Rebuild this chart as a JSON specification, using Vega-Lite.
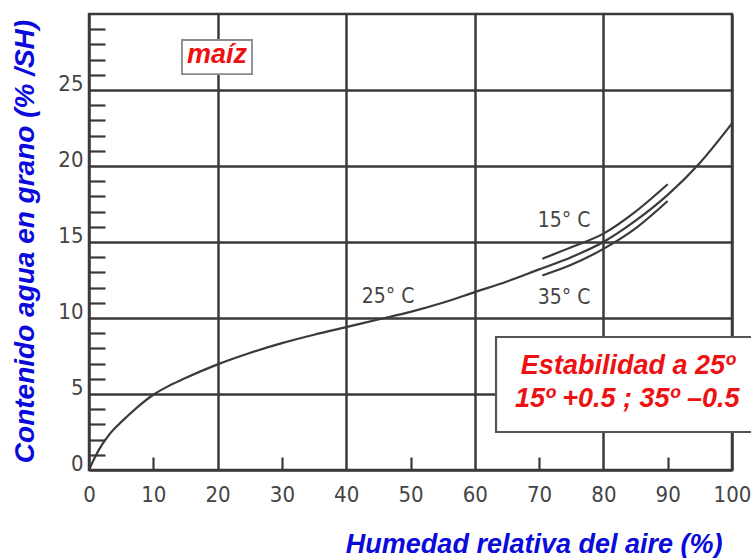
{
  "$schema": "https://vega.github.io/schema/vega-lite/v6.json",
  "autosize": "none",
  "width": 643,
  "height": 456,
  "padding": {"left": 89, "top": 14, "right": 19, "bottom": 88},
  "background": "white",
  "config": {
    "view": {"stroke": "#3a3a3a", "strokeWidth": 2.5},
    "axis": {"domain": false}
  },
  "datasets": {
    "curves": [
      {"series": "25", "x": 0, "y": 0},
      {"series": "25", "x": 1, "y": 0.9},
      {"series": "25", "x": 2, "y": 1.65},
      {"series": "25", "x": 3, "y": 2.25},
      {"series": "25", "x": 4.5, "y": 2.95},
      {"series": "25", "x": 6, "y": 3.55},
      {"series": "25", "x": 8, "y": 4.3},
      {"series": "25", "x": 10, "y": 4.95},
      {"series": "25", "x": 12.5, "y": 5.55},
      {"series": "25", "x": 15, "y": 6.05},
      {"series": "25", "x": 20, "y": 6.95},
      {"series": "25", "x": 25, "y": 7.7},
      {"series": "25", "x": 30, "y": 8.35},
      {"series": "25", "x": 35, "y": 8.9},
      {"series": "25", "x": 40, "y": 9.4},
      {"series": "25", "x": 45, "y": 9.9},
      {"series": "25", "x": 50, "y": 10.4},
      {"series": "25", "x": 55, "y": 11.0},
      {"series": "25", "x": 60, "y": 11.7},
      {"series": "25", "x": 65, "y": 12.4},
      {"series": "25", "x": 70, "y": 13.2},
      {"series": "25", "x": 75, "y": 14.0},
      {"series": "25", "x": 80, "y": 15.0},
      {"series": "25", "x": 85, "y": 16.4},
      {"series": "25", "x": 90, "y": 18.1},
      {"series": "25", "x": 95, "y": 20.2},
      {"series": "25", "x": 100, "y": 22.8},
      {"series": "15", "x": 70.5, "y": 13.9},
      {"series": "15", "x": 75, "y": 14.65},
      {"series": "15", "x": 80, "y": 15.55},
      {"series": "15", "x": 85, "y": 17.0},
      {"series": "15", "x": 90, "y": 18.8},
      {"series": "35", "x": 70.5, "y": 12.8},
      {"series": "35", "x": 75, "y": 13.5},
      {"series": "35", "x": 80, "y": 14.55},
      {"series": "35", "x": 85, "y": 15.9},
      {"series": "35", "x": 90, "y": 17.7}
    ],
    "tempLabels": [
      {"x": 46.5, "y": 11.4, "text": "25° C"},
      {"x": 73.9, "y": 16.4, "text": "15° C"},
      {"x": 73.9, "y": 11.3, "text": "35° C"}
    ],
    "smallBox": [{"x": 14.46, "x2": 25.35, "y": 26.05, "y2": 28.29}],
    "bigBox": [{"x": 63.3, "x2": 104, "y": 2.5, "y2": 8.75}],
    "maiz": [{"x": 19.9, "y": 26.8, "text": "maíz"}],
    "estab": [
      {"x": 83.8, "y": 6.32, "text": "Estabilidad a 25º"},
      {"x": 83.7, "y": 4.14, "text": "15º +0.5 ; 35º –0.5"}
    ]
  },
  "encoding": {
    "x": {
      "field": "x",
      "type": "quantitative",
      "scale": {"domain": [0, 100], "nice": false, "zero": false},
      "axis": {
        "values": [0, 10, 20, 30, 40, 50, 60, 70, 80, 90, 100],
        "title": "Humedad relativa del aire (%)",
        "titleFont": "Liberation Sans",
        "titleFontSize": 27,
        "titleFontWeight": "bold",
        "titleFontStyle": "italic",
        "titleColor": "#0a0adc",
        "titleAlign": "right",
        "titleBaseline": "middle",
        "titleX": 633,
        "titleY": 74,
        "labelFont": "Liberation Sans Narrow, DejaVu Sans Condensed, sans-serif",
        "labelFontSize": 22,
        "labelColor": "#444444",
        "labelBaseline": "middle",
        "labelPadding": 37,
        "labelFlush": false,
        "labelOverlap": false,
        "tickSize": -13,
        "tickWidth": 2.2,
        "tickColor": "#3a3a3a",
        "tickOpacity": {"condition": {"test": "datum.value % 20 === 10", "value": 1}, "value": 0},
        "grid": true,
        "gridColor": "#3a3a3a",
        "gridWidth": 2.5,
        "gridOpacity": {"condition": {"test": "datum.value % 20 === 0", "value": 1}, "value": 0}
      }
    },
    "y": {
      "field": "y",
      "type": "quantitative",
      "scale": {"domain": [0, 30], "nice": false, "zero": false},
      "axis": {
        "values": [0, 1, 2, 3, 4, 5, 6, 7, 8, 9, 10, 11, 12, 13, 14, 15, 16, 17, 18, 19, 20, 21, 22, 23, 24, 25, 26, 27, 28, 29],
        "title": "Contenido agua en grano (% /SH)",
        "titleFont": "Liberation Sans",
        "titleFontSize": 28,
        "titleFontWeight": "bold",
        "titleFontStyle": "italic",
        "titleColor": "#0a0adc",
        "titleAngle": -90,
        "titleAlign": "center",
        "titleBaseline": "middle",
        "titleX": -64,
        "titleY": 227,
        "labelFont": "Liberation Sans Narrow, DejaVu Sans Condensed, sans-serif",
        "labelFontSize": 22,
        "labelColor": "#444444",
        "labelBaseline": "alphabetic",
        "labelAlign": "right",
        "labelPadding": 22,
        "labelFlush": false,
        "labelOverlap": false,
        "labelExpr": "datum.value % 5 === 0 ? datum.label : ''",
        "tickSize": -16,
        "tickWidth": 2.2,
        "tickColor": "#3a3a3a",
        "tickOpacity": {"condition": {"test": "datum.value % 5 === 0", "value": 0}, "value": 1},
        "grid": true,
        "gridColor": "#3a3a3a",
        "gridWidth": 2.5,
        "gridOpacity": {"condition": {"test": "datum.value % 5 === 0", "value": 1}, "value": 0}
      }
    }
  },
  "layer": [
    {
      "data": {"name": "curves"},
      "mark": {"type": "line", "interpolate": "monotone", "color": "#3a3a3a", "strokeWidth": 2.2},
      "encoding": {"detail": {"field": "series", "type": "nominal"}}
    },
    {
      "data": {"name": "tempLabels"},
      "mark": {"type": "text", "font": "Liberation Sans Narrow, DejaVu Sans Condensed, sans-serif", "fontSize": 21, "color": "#444444", "align": "center", "baseline": "middle"},
      "encoding": {"text": {"field": "text"}}
    },
    {
      "data": {"name": "smallBox"},
      "mark": {"type": "rect", "fill": "white", "stroke": "#8a8a8a", "strokeWidth": 1.8},
      "encoding": {"x2": {"field": "x2"}, "y2": {"field": "y2"}}
    },
    {
      "data": {"name": "bigBox"},
      "mark": {"type": "rect", "fill": "white", "stroke": "#555555", "strokeWidth": 2.2, "clip": false},
      "encoding": {"x2": {"field": "x2"}, "y2": {"field": "y2"}}
    },
    {
      "data": {"name": "maiz"},
      "mark": {"type": "text", "font": "Liberation Sans", "fontSize": 27, "fontWeight": "bold", "fontStyle": "italic", "color": "#ee1111", "align": "center", "baseline": "alphabetic"},
      "encoding": {"text": {"field": "text"}}
    },
    {
      "data": {"name": "estab"},
      "mark": {"type": "text", "font": "Liberation Sans", "fontSize": 27, "fontWeight": "bold", "fontStyle": "italic", "color": "#ee1111", "align": "center", "baseline": "alphabetic"},
      "encoding": {"text": {"field": "text"}}
    }
  ]
}
